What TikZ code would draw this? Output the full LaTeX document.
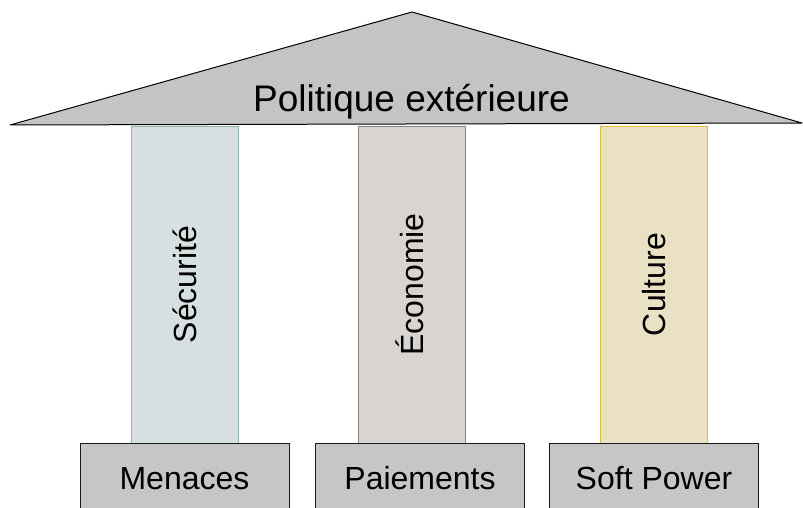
\documentclass[tikz,border=0pt]{standalone}
\usepackage{fontspec}
\setmainfont{Liberation Sans}
\definecolor{roofgray}{HTML}{C4C4C4}
\definecolor{basegray}{HTML}{C6C6C6}
\definecolor{secfill}{HTML}{D6E0E1}
\definecolor{secline}{HTML}{8CB3B3}
\definecolor{ecofill}{HTML}{D8D4D1}
\definecolor{ecoline}{HTML}{8E807A}
\definecolor{culfill}{HTML}{EAE1C4}
\definecolor{culline}{HTML}{D9BE3A}
\tikzset{
  pillar/.style={rotate=90, minimum width=317, minimum height=107, inner sep=0pt,
    line width=0.9pt, text height=23pt, text depth=0pt, font=\fontsize{32}{38}\selectfont},
  basebox/.style={draw=black!90, fill=basegray, line width=1pt, minimum width=209,
    minimum height=76, inner sep=0pt, text height=23pt, text depth=7pt,
    font=\fontsize{32}{38}\selectfont}
}
\begin{document}
\begin{tikzpicture}[x=1pt,y=-1pt]
    \useasboundingbox (0,0) rectangle (803,508);
    \node[pillar, fill=secfill, draw=secline] (secu) at (184.5,284.5) {Sécurité};
    \node[pillar, fill=ecofill, draw=ecoline] (eco) at (412,284.5) {Économie};
    \node[pillar, fill=culfill, draw=culline] (cult) at (653.5,284.5) {Culture};
    \draw[fill=roofgray, line width=1pt, line join=round] (10,125) -- (412,12) -- (802,123) -- cycle;
    \node[anchor=base, font=\fontsize{37}{44}\selectfont] (toit) at (411.5,112) {Politique extérieure};
    \node[basebox] (menace) at (184.5,481) {Menaces};
    \node[basebox] (paie) at (420,481) {Paiements};
    \node[basebox] (soft) at (654,481) {Soft Power};
\end{tikzpicture}
\end{document}
